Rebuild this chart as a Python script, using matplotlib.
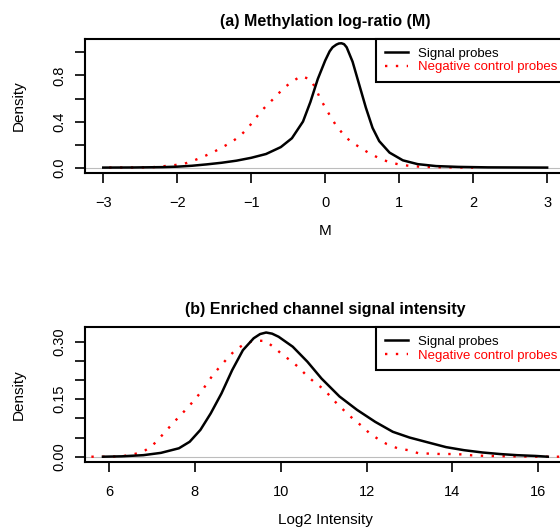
import matplotlib
matplotlib.use("Agg")
import matplotlib.pyplot as plt
from matplotlib.ticker import FixedLocator, FixedFormatter

plt.rcParams['font.family'] = ['Liberation Sans', 'DejaVu Sans']

# (a) methylation log-ratio densities
m_signal_x = [-3.0, -2.6, -2.2, -2.0, -1.8, -1.6, -1.4, -1.2, -1.0, -0.8, -0.6, -0.45, -0.3, -0.2,
              -0.1, 0.0, 0.06, 0.10, 0.15, 0.185, 0.22, 0.255, 0.29, 0.37, 0.46, 0.55, 0.64,
              0.73, 0.87, 1.05, 1.25, 1.5, 1.8, 2.2, 2.6, 3.0]
m_signal_y = [0.0, 0.001, 0.004, 0.008, 0.016, 0.028, 0.042, 0.06, 0.085, 0.118, 0.178, 0.255,
              0.40, 0.57, 0.77, 0.93, 1.01, 1.045, 1.068, 1.078, 1.08, 1.072, 1.045, 0.92, 0.72,
              0.52, 0.345, 0.23, 0.13, 0.063, 0.03, 0.013, 0.006, 0.002, 0.001, 0.0]
m_neg_x = [-2.92, -2.6, -2.34, -2.2, -2.06, -1.91, -1.77, -1.64, -1.51, -1.386, -1.26, -1.143,
           -1.044, -0.954, -0.864, -0.761, -0.662, -0.563, -0.45, -0.33, -0.203, -0.13, -0.068,
           0.0, 0.072, 0.148, 0.238, 0.341, 0.463, 0.584, 0.715, 0.845, 0.99, 1.15, 1.3, 1.5,
           1.75, 2.0]
m_neg_y = [0.0, 0.001, 0.003, 0.011, 0.02, 0.032, 0.063, 0.097, 0.135, 0.178, 0.224, 0.28,
           0.345, 0.417, 0.492, 0.558, 0.622, 0.69, 0.745, 0.794, 0.768, 0.69, 0.60, 0.523,
           0.443, 0.365, 0.294, 0.227, 0.178, 0.129, 0.086, 0.052, 0.028, 0.014, 0.007, 0.003,
           0.001, 0.0]

# (b) enriched channel log2 intensity densities
i_signal_x = [5.86, 6.3, 6.8, 7.21, 7.63, 7.88, 8.13, 8.37, 8.62, 8.87, 9.12, 9.37, 9.52, 9.66,
              9.8, 9.95, 10.28, 10.62, 10.95, 11.37, 11.78, 12.2, 12.61, 13.0, 13.44, 13.85,
              14.27, 14.7, 15.1, 15.5, 15.93, 16.22]
i_signal_y = [0.0, 0.001, 0.004, 0.010, 0.022, 0.039, 0.07, 0.113, 0.165, 0.226, 0.278, 0.309,
              0.32, 0.324, 0.321, 0.313, 0.287, 0.248, 0.204, 0.157, 0.122, 0.091, 0.065, 0.05,
              0.037, 0.025, 0.017, 0.011, 0.007, 0.004, 0.002, 0.0]
i_neg_x = [5.59, 6.0, 6.3, 6.56, 6.80, 7.02, 7.19, 7.35, 7.52, 7.69, 7.85, 8.02, 8.18, 8.31, 8.46,
           8.62, 8.79, 8.96, 9.19, 9.40, 9.64, 9.85, 10.03, 10.24, 10.43, 10.6, 10.8, 10.99,
           11.16, 11.32, 11.51, 11.7, 11.89, 12.07, 12.27, 12.47, 12.72, 12.97, 13.21, 13.47,
           13.72, 13.98, 14.23, 14.46, 14.8, 15.3, 16.0, 16.63]
i_neg_y = [0.0, 0.0, 0.001, 0.006, 0.013, 0.03, 0.05, 0.07, 0.091, 0.111, 0.13, 0.152, 0.174,
           0.196, 0.219, 0.239, 0.261, 0.28, 0.296, 0.303, 0.302, 0.285, 0.267, 0.25, 0.232,
           0.212, 0.193, 0.177, 0.157, 0.137, 0.117, 0.097, 0.08, 0.061, 0.046, 0.033, 0.022,
           0.017, 0.009, 0.008, 0.007, 0.007, 0.006, 0.0035, 0.002, 0.001, 0.0, 0.0]

m_xticks = [-3, -2, -1, 0, 1, 2, 3]
m_yticks = [0.0, 0.2, 0.4, 0.6, 0.8, 1.0]
m_ylabels = ['0.0', '', '0.4', '', '0.8', '']
i_xticks = [6, 8, 10, 12, 14, 16]
i_yticks = [0.0, 0.05, 0.10, 0.15, 0.20, 0.25, 0.30]
i_ylabels = ['0.00', '', '', '0.15', '', '', '0.30']

W, H = 560, 531
fig = plt.figure(figsize=(W / 100, H / 100), dpi=100)

left, right = 85, 565.4


def make_panel(top, bottom, curves, xlim, ylim, xticks, yticks, ylabels, title, xlabel):
    ax = fig.add_axes([left / W, 1 - bottom / H, (right - left) / W, (bottom - top) / H])
    ax.axhline(0, color='#bdbdbd', lw=0.8, zorder=1)
    sx, sy, nx, ny = curves
    ax.plot(sx, sy, color='black', lw=1.8, label='Signal probes', zorder=3)
    ax.plot(nx, ny, color='red', lw=1.7, linestyle=(0, (1, 3.6)),
            label='Negative control probes', zorder=2)
    ax.set_xlim(*xlim)
    ax.set_ylim(*ylim)
    ax.xaxis.set_major_locator(FixedLocator(xticks))
    ax.yaxis.set_major_locator(FixedLocator(yticks))
    ax.yaxis.set_major_formatter(FixedFormatter(ylabels))
    ax.tick_params(direction='out', length=7.2, width=1.2, labelsize=10.5)
    ax.tick_params(axis='x', pad=9.5)
    ax.tick_params(axis='y', pad=6.5)
    for lab in ax.get_yticklabels():
        lab.set_rotation(90)
        lab.set_va('center')
    for s in ax.spines.values():
        s.set_linewidth(1.5)
    leg = ax.legend(loc='upper left', bbox_to_anchor=((376 - left) / (right - left), 1.0),
                    borderaxespad=0, fancybox=False, framealpha=1, edgecolor='black',
                    fontsize=9.5, handlelength=1.75, handletextpad=0.8, borderpad=0.65,
                    labelspacing=0.1, labelcolor=['black', 'red'])
    leg.get_frame().set_linewidth(1.5)
    cx = (left + right) / 2 / W
    fig.text(cx, 1 - (top - 17.5) / H, title, ha='center', va='center',
             fontsize=11.5, fontweight='bold')
    fig.text(cx, 1 - (bottom + 58) / H, xlabel, ha='center', va='center', fontsize=11)
    fig.text(19.1 / W, 1 - (top + bottom) / 2 / H, 'Density', ha='center', va='center',
             rotation=90, fontsize=11)
    return ax


make_panel(39, 173, (m_signal_x, m_signal_y, m_neg_x, m_neg_y), (-3.247, 3.247),
           (-0.047, 1.117), m_xticks, m_yticks, m_ylabels,
           '(a) Methylation log-ratio (M)', 'M')
make_panel(327.3, 462.3, (i_signal_x, i_signal_y, i_neg_x, i_neg_y), (5.442, 16.63),
           (-0.0146, 0.3376), i_xticks, i_yticks, i_ylabels,
           '(b) Enriched channel signal intensity', 'Log2 Intensity')

fig.savefig('out.png', dpi=100)
